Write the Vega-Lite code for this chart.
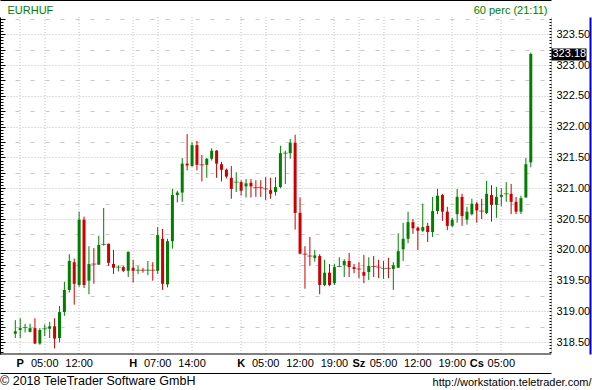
{
"$schema": "https://vega.github.io/schema/vega-lite/v6.json",
"width": 551, "height": 337,
"autosize": {"type": "none"},
"padding": {"left": 0, "top": 17, "right": 41, "bottom": 36},
"background": "white",
"data": {"values": [
{"i":0,"o":318.64,"h":318.86,"l":318.57,"c":318.68,"d":"up"},
{"i":1,"o":318.70,"h":318.89,"l":318.57,"c":318.73,"d":"up"},
{"i":2,"o":318.74,"h":318.80,"l":318.66,"c":318.74,"d":"up"},
{"i":3,"o":318.67,"h":318.80,"l":318.66,"c":318.73,"d":"up"},
{"i":4,"o":318.73,"h":318.89,"l":318.47,"c":318.48,"d":"dn"},
{"i":5,"o":318.48,"h":318.73,"l":318.46,"c":318.70,"d":"up"},
{"i":6,"o":318.72,"h":318.79,"l":318.60,"c":318.72,"d":"up"},
{"i":7,"o":318.72,"h":318.83,"l":318.57,"c":318.76,"d":"up"},
{"i":8,"o":318.76,"h":318.89,"l":318.40,"c":318.56,"d":"dn"},
{"i":9,"o":318.57,"h":319.09,"l":318.50,"c":318.99,"d":"up"},
{"i":10,"o":318.99,"h":319.48,"l":318.93,"c":319.35,"d":"up"},
{"i":11,"o":319.35,"h":319.93,"l":319.31,"c":319.82,"d":"up"},
{"i":12,"o":319.80,"h":319.86,"l":319.11,"c":319.45,"d":"dn"},
{"i":13,"o":319.43,"h":320.62,"l":319.40,"c":320.49,"d":"up"},
{"i":14,"o":320.49,"h":320.54,"l":319.38,"c":319.43,"d":"dn"},
{"i":15,"o":319.50,"h":320.06,"l":319.28,"c":319.77,"d":"up"},
{"i":16,"o":319.77,"h":320.03,"l":319.45,"c":319.77,"d":"dn"},
{"i":17,"o":319.76,"h":320.23,"l":319.76,"c":320.08,"d":"up"},
{"i":18,"o":320.09,"h":320.68,"l":320.07,"c":320.09,"d":"up"},
{"i":19,"o":320.10,"h":320.10,"l":319.74,"c":319.79,"d":"dn"},
{"i":20,"o":319.77,"h":320.00,"l":319.61,"c":319.71,"d":"dn"},
{"i":21,"o":319.72,"h":319.75,"l":319.65,"c":319.72,"d":"up"},
{"i":22,"o":319.72,"h":319.74,"l":319.64,"c":319.66,"d":"dn"},
{"i":23,"o":319.66,"h":319.97,"l":319.56,"c":319.97,"d":"up"},
{"i":24,"o":319.71,"h":319.84,"l":319.47,"c":319.66,"d":"dn"},
{"i":25,"o":319.67,"h":319.74,"l":319.61,"c":319.67,"d":"up"},
{"i":26,"o":319.67,"h":319.71,"l":319.63,"c":319.67,"d":"dn"},
{"i":27,"o":319.67,"h":319.82,"l":319.59,"c":319.67,"d":"up"},
{"i":28,"o":319.67,"h":319.80,"l":319.50,"c":319.67,"d":"dn"},
{"i":29,"o":319.66,"h":320.37,"l":319.61,"c":320.24,"d":"up"},
{"i":30,"o":320.18,"h":320.34,"l":319.35,"c":319.45,"d":"dn"},
{"i":31,"o":319.44,"h":320.18,"l":319.39,"c":320.14,"d":"up"},
{"i":32,"o":320.14,"h":320.99,"l":320.02,"c":320.89,"d":"up"},
{"i":33,"o":320.89,"h":320.96,"l":320.77,"c":320.93,"d":"up"},
{"i":34,"o":320.93,"h":321.49,"l":320.78,"c":321.40,"d":"up"},
{"i":35,"o":321.40,"h":321.88,"l":321.29,"c":321.37,"d":"dn"},
{"i":36,"o":321.36,"h":321.75,"l":321.35,"c":321.70,"d":"up"},
{"i":37,"o":321.70,"h":321.77,"l":321.29,"c":321.38,"d":"dn"},
{"i":38,"o":321.38,"h":321.54,"l":321.11,"c":321.38,"d":"dn"},
{"i":39,"o":321.38,"h":321.49,"l":321.17,"c":321.48,"d":"up"},
{"i":40,"o":321.48,"h":321.65,"l":321.45,"c":321.61,"d":"up"},
{"i":41,"o":321.61,"h":321.62,"l":321.17,"c":321.40,"d":"dn"},
{"i":42,"o":321.39,"h":321.43,"l":321.11,"c":321.30,"d":"dn"},
{"i":43,"o":321.30,"h":321.32,"l":321.16,"c":321.19,"d":"dn"},
{"i":44,"o":321.17,"h":321.36,"l":320.83,"c":320.99,"d":"dn"},
{"i":45,"o":321.10,"h":321.26,"l":320.94,"c":321.10,"d":"up"},
{"i":46,"o":321.10,"h":321.13,"l":320.88,"c":320.96,"d":"dn"},
{"i":47,"o":321.03,"h":321.15,"l":320.85,"c":321.08,"d":"up"},
{"i":48,"o":321.09,"h":321.15,"l":320.85,"c":321.03,"d":"dn"},
{"i":49,"o":321.01,"h":321.13,"l":320.86,"c":321.01,"d":"dn"},
{"i":50,"o":321.01,"h":321.13,"l":320.86,"c":321.01,"d":"dn"},
{"i":51,"o":320.99,"h":321.18,"l":320.81,"c":320.99,"d":"dn"},
{"i":52,"o":320.97,"h":321.17,"l":320.83,"c":320.91,"d":"dn"},
{"i":53,"o":320.94,"h":321.18,"l":320.88,"c":321.02,"d":"up"},
{"i":54,"o":321.02,"h":321.69,"l":321.00,"c":321.57,"d":"up"},
{"i":55,"o":321.57,"h":321.61,"l":321.07,"c":321.57,"d":"up"},
{"i":56,"o":321.57,"h":321.80,"l":321.48,"c":321.74,"d":"up"},
{"i":57,"o":321.74,"h":321.87,"l":320.33,"c":320.60,"d":"dn"},
{"i":58,"o":320.60,"h":320.85,"l":319.93,"c":319.94,"d":"dn"},
{"i":59,"o":319.93,"h":320.06,"l":319.37,"c":319.93,"d":"dn"},
{"i":60,"o":319.90,"h":320.21,"l":319.74,"c":319.90,"d":"dn"},
{"i":61,"o":319.87,"h":320.00,"l":319.81,"c":319.91,"d":"up"},
{"i":62,"o":319.90,"h":319.93,"l":319.28,"c":319.43,"d":"dn"},
{"i":63,"o":319.43,"h":319.84,"l":319.41,"c":319.63,"d":"up"},
{"i":64,"o":319.63,"h":319.77,"l":319.41,"c":319.43,"d":"dn"},
{"i":65,"o":319.46,"h":319.77,"l":319.43,"c":319.72,"d":"up"},
{"i":66,"o":319.73,"h":319.88,"l":319.72,"c":319.73,"d":"up"},
{"i":67,"o":319.75,"h":319.85,"l":319.56,"c":319.82,"d":"up"},
{"i":68,"o":319.82,"h":319.95,"l":319.56,"c":319.72,"d":"dn"},
{"i":69,"o":319.72,"h":319.77,"l":319.62,"c":319.69,"d":"dn"},
{"i":70,"o":319.69,"h":319.80,"l":319.54,"c":319.69,"d":"dn"},
{"i":71,"o":319.64,"h":319.92,"l":319.46,"c":319.58,"d":"dn"},
{"i":72,"o":319.64,"h":319.88,"l":319.51,"c":319.74,"d":"up"},
{"i":73,"o":319.73,"h":319.90,"l":319.56,"c":319.73,"d":"dn"},
{"i":74,"o":319.72,"h":319.84,"l":319.54,"c":319.72,"d":"dn"},
{"i":75,"o":319.70,"h":319.82,"l":319.53,"c":319.70,"d":"up"},
{"i":76,"o":319.70,"h":319.87,"l":319.54,"c":319.70,"d":"dn"},
{"i":77,"o":319.69,"h":319.80,"l":319.35,"c":319.75,"d":"up"},
{"i":78,"o":319.71,"h":320.27,"l":319.71,"c":319.98,"d":"up"},
{"i":79,"o":320.01,"h":320.44,"l":319.82,"c":320.18,"d":"up"},
{"i":80,"o":320.18,"h":320.62,"l":320.11,"c":320.45,"d":"up"},
{"i":81,"o":320.45,"h":320.50,"l":320.26,"c":320.35,"d":"dn"},
{"i":82,"o":320.36,"h":320.38,"l":320.00,"c":320.31,"d":"dn"},
{"i":83,"o":320.31,"h":320.75,"l":320.29,"c":320.37,"d":"up"},
{"i":84,"o":320.39,"h":320.44,"l":320.13,"c":320.29,"d":"dn"},
{"i":85,"o":320.29,"h":320.86,"l":320.21,"c":320.63,"d":"up"},
{"i":86,"o":320.63,"h":320.99,"l":320.58,"c":320.88,"d":"up"},
{"i":87,"o":320.89,"h":320.91,"l":320.47,"c":320.62,"d":"dn"},
{"i":88,"o":320.62,"h":320.70,"l":320.32,"c":320.39,"d":"dn"},
{"i":89,"o":320.39,"h":320.52,"l":320.37,"c":320.49,"d":"up"},
{"i":90,"o":320.58,"h":320.99,"l":320.44,"c":320.86,"d":"up"},
{"i":91,"o":320.86,"h":320.91,"l":320.39,"c":320.55,"d":"dn"},
{"i":92,"o":320.49,"h":320.70,"l":320.41,"c":320.62,"d":"up"},
{"i":93,"o":320.58,"h":320.83,"l":320.56,"c":320.75,"d":"up"},
{"i":94,"o":320.75,"h":320.78,"l":320.44,"c":320.64,"d":"dn"},
{"i":95,"o":320.63,"h":320.83,"l":320.50,"c":320.63,"d":"dn"},
{"i":96,"o":320.60,"h":321.12,"l":320.58,"c":320.91,"d":"up"},
{"i":97,"o":320.89,"h":321.05,"l":320.46,"c":320.73,"d":"dn"},
{"i":98,"o":320.73,"h":321.02,"l":320.52,"c":320.86,"d":"up"},
{"i":99,"o":320.86,"h":321.00,"l":320.71,"c":320.89,"d":"up"},
{"i":100,"o":320.91,"h":321.10,"l":320.78,"c":320.91,"d":"up"},
{"i":101,"o":320.91,"h":321.07,"l":320.58,"c":320.78,"d":"dn"},
{"i":102,"o":320.78,"h":320.86,"l":320.58,"c":320.62,"d":"dn"},
{"i":103,"o":320.62,"h":320.88,"l":320.58,"c":320.84,"d":"up"},
{"i":104,"o":320.85,"h":321.49,"l":320.85,"c":321.39,"d":"up"},
{"i":105,"o":321.42,"h":323.20,"l":321.34,"c":323.18,"d":"up"}
]},
"resolve": {"axis": {"x": "independent", "y": "independent"}},
"layer": [
{
 "mark": {"type": "rule", "strokeWidth": 1},
 "encoding": {
  "x": {"field": "i", "type": "quantitative", "scale": {"domain": [-2.1, 108.1], "nice": false, "zero": false},
   "axis": {"orient": "bottom", "values": [1,6,13,24,29,36,46,51,58,65,70,75,82,89,94,99],
    "labelExpr": "['P','05:00','12:00','H','07:00','14:00','K','05:00','12:00','19:00','Sz','05:00','12:00','19:00','Cs','05:00'][indexof([1,6,13,24,29,36,46,51,58,65,70,75,82,89,94,99], datum.value)]",
    "labelFontWeight": {"condition": {"test": "indexof([1,24,46,70,94], datum.value) >= 0", "value": "bold"}, "value": "normal"},
    "labelPadding": 4, "labelOverlap": false, "labelFlush": false, "ticks": false, "tickSize": 0,
    "domain": true, "domainColor": "#000000", "domainWidth": 1,
    "grid": true, "gridColor": "#c0c0c0", "gridDash": [1,2], "gridWidth": 1, "translate": 0,
    "title": "© 2018 TeleTrader Software GmbH", "titleX": 0, "titleY": 31, "titleAlign": "left", "titleAnchor": "start", "titleBaseline": "alphabetic", "titleFontSize": 12.5}},
  "y": {"field": "l", "type": "quantitative", "scale": {"domain": [318.31, 323.78], "nice": false, "zero": false},
   "axis": {"orient": "right", "values": [318.5,319,319.5,320,320.5,321,321.5,322,322.5,323,323.5], "format": ".2f",
    "labelPadding": 5, "ticks": false, "tickSize": 0, "domain": true, "domainColor": "#f0c040",
    "grid": true, "gridColor": "#c0c0c0", "gridDash": [1,2], "gridWidth": 1, "title": null}},
  "y2": {"field": "h"},
  "color": {"field": "d", "type": "nominal", "scale": {"domain": ["up","dn"], "range": ["#008000","#cc0000"]}, "legend": null}
 }
},
{
 "mark": {"type": "bar", "size": 3},
 "encoding": {
  "x": {"field": "i", "type": "quantitative",
   "axis": {"orient": "top", "labels": false, "ticks": false, "domain": false, "grid": false,
    "title": "60 perc (21:11)", "titleX": 547, "titleY": -4, "titleAlign": "right", "titleAnchor": "end", "titleBaseline": "alphabetic", "titleFontSize": 11, "titleColor": "#008000"}},
  "y": {"field": "o", "type": "quantitative",
   "axis": {"orient": "left", "tickCount": 100, "labels": false, "ticks": true, "tickSize": -3, "domain": true, "grid": false,
    "title": "EURHUF", "titleAngle": 0, "titleX": 7, "titleY": -4, "titleAlign": "left", "titleAnchor": "start", "titleBaseline": "alphabetic", "titleFontSize": 11, "titleColor": "#008000"}},
  "y2": {"field": "c"},
  "color": {"field": "d", "type": "nominal", "legend": null}
 }
},
{
 "transform": [{"filter": "datum.o == datum.c"}],
 "mark": {"type": "tick", "orient": "horizontal", "size": 5, "thickness": 1},
 "encoding": {
  "x": {"field": "i", "type": "quantitative",
   "axis": {"orient": "bottom", "offset": 19, "labels": false, "ticks": false, "grid": false, "domain": true,
    "title": "http://workstation.teletrader.com/", "titleX": 591, "titleY": 12, "titleAlign": "right", "titleAnchor": "end", "titleBaseline": "alphabetic", "titleFontSize": 11}},
  "y": {"field": "c", "type": "quantitative",
   "axis": {"orient": "right", "tickCount": 100, "labels": false, "ticks": true, "tickSize": -2, "domain": false, "grid": false, "title": null}},
  "color": {"field": "d", "type": "nominal", "legend": null}
 }
},
{
 "mark": {"type": "rule", "opacity": 0},
 "encoding": {
  "x": {"field": "i", "type": "quantitative",
   "axis": {"orient": "top", "offset": 17, "labels": false, "ticks": false, "grid": false, "domain": true, "title": null}},
  "y": {"field": "l", "type": "quantitative",
   "axis": {"orient": "left", "values": [318.5,318.75,319,319.25,319.5,319.75,320,320.25,320.5,320.75,321,321.25,321.5,321.75,322,322.25,322.5,322.75,323,323.25,323.5,323.75],
    "labels": false, "ticks": true, "tickSize": -5, "domain": false,
    "grid": true, "gridColor": "#c8c8c8", "gridDash": [4, 11],
    "gridOpacity": {"condition": {"test": "datum.value % 0.5 == 0", "value": 0}, "value": 1}, "title": null}},
  "y2": {"field": "h"}
 }
},
{
 "mark": {"type": "rule", "opacity": 0},
 "encoding": {
  "y": {"field": "l", "type": "quantitative",
   "axis": {"orient": "right", "values": [323.18], "format": ".2f", "ticks": true, "tickSize": 35, "tickWidth": 12, "tickColor": "#000000",
    "labels": true, "labelColor": "#ffffff", "labelPadding": -34, "labelFontSize": 11, "domain": false, "grid": false, "title": null, "zindex": 1}},
  "y2": {"field": "h"}
 }
},
{
 "mark": {"type": "rule", "opacity": 0},
 "encoding": {
  "y": {"field": "l", "type": "quantitative",
   "axis": {"orient": "right", "offset": 39, "labels": false, "ticks": false, "grid": false, "domain": true, "domainColor": "#0000cc", "domainWidth": 2, "title": null}},
  "y2": {"field": "h"}
 }
}
],
"config": {
 "view": {"stroke": null},
 "axis": {"labelFont": "Liberation Sans", "labelFontSize": 11, "labelColor": "#000000", "titleFont": "Liberation Sans", "titleFontWeight": "normal", "titleColor": "#000000", "domainColor": "#000000", "tickColor": "#000000"}
}
}
